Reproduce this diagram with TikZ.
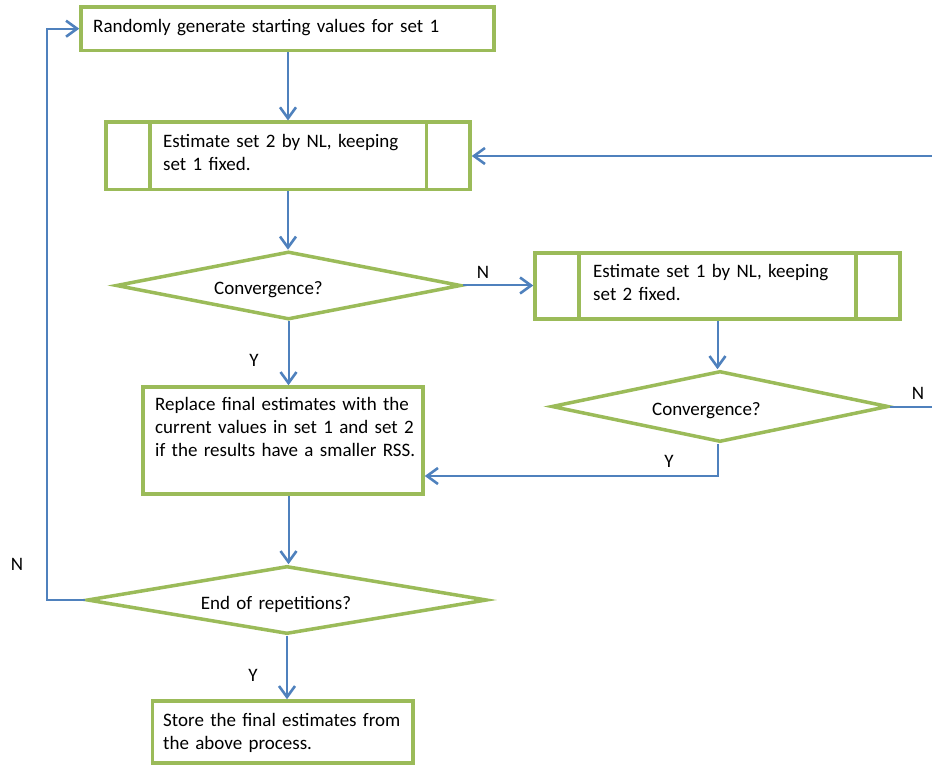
\documentclass[tikz,border=0pt]{standalone}
\usepackage{fontspec}
\setmainfont{Carlito}
\usetikzlibrary{shapes.geometric,arrows.meta}
\definecolor{boxgreen}{HTML}{9BBB59}
\definecolor{linkblue}{HTML}{4F81BD}
\tikzset{
  box/.style={draw=boxgreen, line width=3.5pt, fill=white, rectangle, inner sep=0pt},
  dia/.style={draw=boxgreen, line width=3.5pt, fill=white, diamond, inner sep=0pt},
  txt/.style={font=\fontsize{19}{23}\selectfont, inner sep=0pt, anchor=base west, text width=460pt, align=left},
  lbl/.style={font=\fontsize{19}{23}\selectfont, inner sep=0pt, anchor=center},
  link/.style={draw=linkblue, line width=2pt, -{Straight Barb[length=11pt,width=16pt,line width=2.6pt]}},
  inner/.style={draw=boxgreen, line width=3.5pt}
}
\begin{document}
\begin{tikzpicture}[x=1pt,y=-1pt]
\useasboundingbox (0,0) rectangle (932,767);
\clip (0,0) rectangle (932,767);
% boxes
\node[box, minimum width=413pt, minimum height=43.5pt] (b1) at (287.5,28.7) {};
\node[box, minimum width=364pt, minimum height=67.5pt] (b2) at (288,156) {};
\draw[inner] (150,122.5) -- (150,190) (426.7,122.5) -- (426.7,190);
\node[box, minimum width=365pt, minimum height=66pt] (b3) at (717.5,286) {};
\draw[inner] (579,253) -- (579,319) (856,253) -- (856,319);
\node[box, minimum width=280pt, minimum height=107pt] (b4) at (283,440.5) {};
\node[box, minimum width=260.5pt, minimum height=62pt] (b5) at (282.75,732) {};
% diamonds
\node[dia, minimum width=345pt, minimum height=68pt] (d1) at (288.5,285.5) {};
\node[dia, minimum width=337pt, minimum height=71pt] (d2) at (720,406.5) {};
\node[dia, minimum width=400pt, minimum height=68pt] (d3) at (287,600) {};
% texts
\node[txt] (t1) at (93,32.3) {Randomly generate starting values for set 1};
\node[txt] (t2) at (163,147.7) {Estimate set 2 by NL, keeping\\set 1 fixed.};
\node[txt] (t3) at (593,277.3) {Estimate set 1 by NL, keeping\\set 2 fixed.};
\node[txt] (t4) at (155,410.7) {Replace final estimates with the\\current values in set 1 and set 2\\if the results have a smaller RSS.};
\node[txt] (t5) at (163,726) {Store the final estimates from\\the above process.};
\node[txt] (td1) at (214,295) {Convergence?};
\node[txt] (td2) at (652,415.7) {Convergence?};
\node[txt] (td3) at (200.7,609.3) {End of repetitions?};
% labels
\node[lbl] (n1) at (483,272) {N};
\node[lbl] (y1) at (254,360) {Y};
\node[lbl] (n2) at (918,393) {N};
\node[lbl] (y2) at (669,461) {Y};
\node[lbl] (n3) at (17,564) {N};
\node[lbl] (y3) at (253,675) {Y};
% connectors
\coordinate (rloop) at (945,406.5);
\coordinate (lloop) at (47,600);
\draw[link] (b1.south -| b2.north) -- (b2.north);
\draw[link] (b2.south) -- (b2.south |- d1.north);
\draw[link] (d1.east) -- (d1.east -| b3.west);
\draw[link] (b3.south) -- (b3.south |- d2.north);
\draw[link] (d1.south) -- (d1.south |- b4.north);
\draw[link] (b3.south |- d2.south) |- ([yshift=-35.5pt]b4.east);
\draw[link] (d2.east) -- (rloop) |- (b2.east);
\draw[link] (d1.south |- b4.south) -- (d1.south |- d3.north);
\draw[link] (d3.west) -- (lloop) |- (b1.west);
\draw[link] (d3.south) -- (d3.south |- b5.north);
\end{tikzpicture}
\end{document}
